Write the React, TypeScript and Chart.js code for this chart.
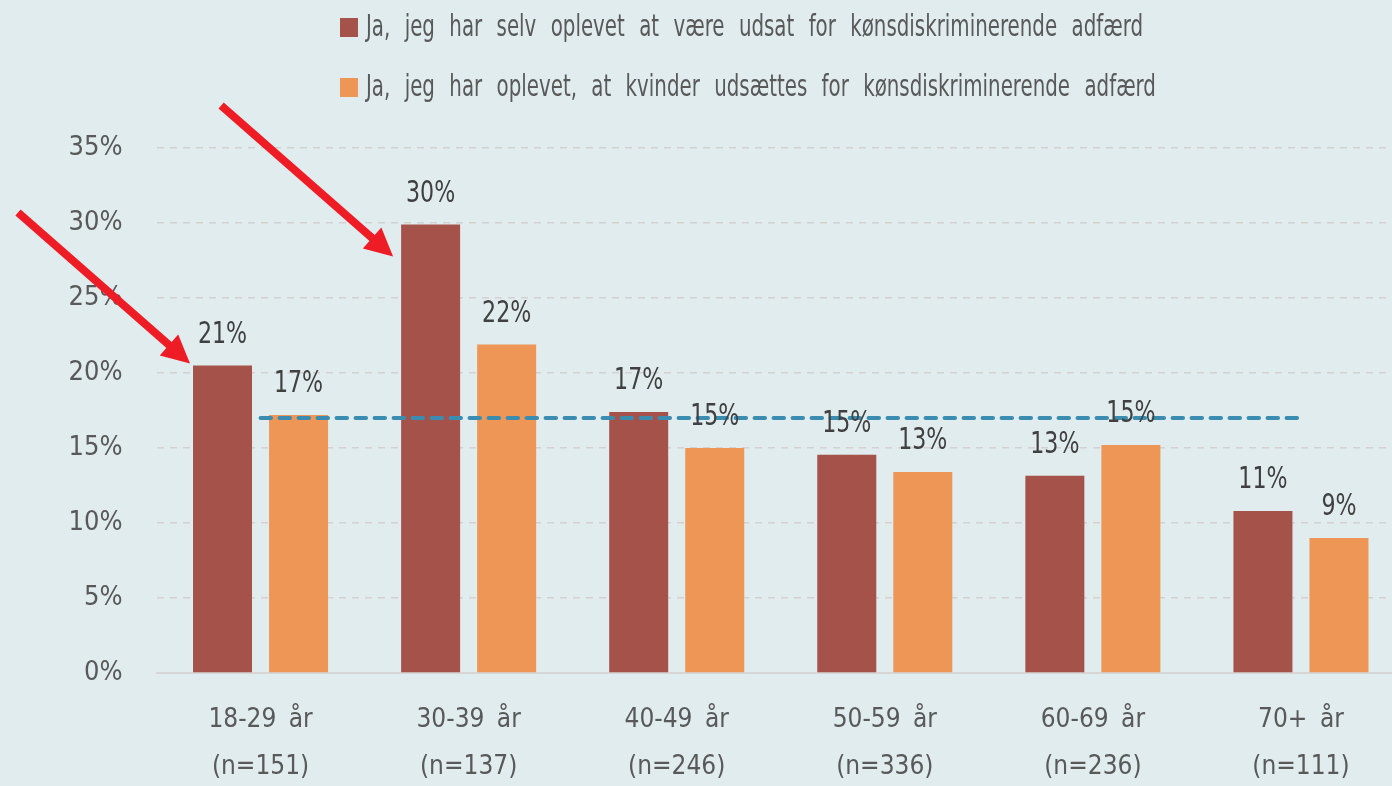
import React, { useEffect, useRef } from "react";
import { Chart, registerables } from "chart.js";

Chart.register(...registerables);

// ---------- data ----------
const categories: string[][] = [
  ["18-29 år", "(n=151)"],
  ["30-39 år", "(n=137)"],
  ["40-49 år", "(n=246)"],
  ["50-59 år", "(n=336)"],
  ["60-69 år", "(n=236)"],
  ["70+ år", "(n=111)"],
];
const seriesLabels = [
  "Ja, jeg har selv oplevet at være udsat for kønsdiskriminerende adfærd",
  "Ja, jeg har oplevet, at kvinder udsættes for kønsdiskriminerende adfærd",
];
const selfExperienced = [20.5, 29.9, 17.4, 14.55, 13.15, 10.8];
const womenExperienced = [17.2, 21.9, 15.0, 13.4, 15.2, 9.0];
const averageLine = [17, 17, 17, 17, 17, 17];
const yMin = 0;
const yMax = 35;
const yStep = 5;

// ---------- styles ----------
const FONT = '"Liberation Sans Narrow", "DejaVu Sans Condensed", "Noto Sans", sans-serif';
const BG = "#e1ecee";
const DARK = "#a5524a";
const ORANGE = "#ee9655";
const AVG = "#3a8db1";
const TEXT = "#595959";
const LABEL = "#404040";
const ARROW = "#ee1c25";

const wordSpacingPlugin = {
  id: "wordSpacing",
  beforeDraw(chart: any) {
    (chart.ctx as any).wordSpacing = "5px";
  },
};

const valueLabels = {
  id: "valueLabels",
  afterDatasetsDraw(chart: any) {
    const ctx = chart.ctx;
    chart.data.datasets.forEach((ds: any, i: number) => {
      if (ds.type === "line") return;
      const meta = chart.getDatasetMeta(i);
      meta.data.forEach((el: any, j: number) => {
        ctx.save();
        ctx.font = `30px ${FONT}`;
        ctx.fillStyle = LABEL;
        ctx.textAlign = "center";
        ctx.textBaseline = "alphabetic";
        ctx.translate(el.x, el.y - 23);
        ctx.scale(0.82, 1);
        ctx.fillText(Math.round(ds.data[j]) + "%", 0, 0);
        ctx.restore();
      });
    });
  },
};

const arrowsPlugin = {
  id: "arrows",
  afterDraw(chart: any) {
    const ctx = chart.ctx;
    const meta = chart.getDatasetMeta(0);
    const marks = [
      { index: 0, dx: -3, dy: -2 },
      { index: 1, dx: -8, dy: 32 },
    ];
    const vx = -172;
    const vy = -151;
    const len = Math.hypot(vx, vy);
    const ux = vx / len;
    const uy = vy / len;
    const headLen = 28;
    const headHalf = 14;
    ctx.save();
    ctx.strokeStyle = ARROW;
    ctx.fillStyle = ARROW;
    ctx.lineWidth = 8;
    marks.forEach((m) => {
      const el = meta.data[m.index];
      const tipX = el.x - el.width / 2 + m.dx;
      const tipY = el.y + m.dy;
      const tailX = tipX + vx;
      const tailY = tipY + vy;
      const baseX = tipX + ux * headLen;
      const baseY = tipY + uy * headLen;
      ctx.beginPath();
      ctx.moveTo(tailX, tailY);
      ctx.lineTo(baseX - ux * 2, baseY - uy * 2);
      ctx.stroke();
      ctx.beginPath();
      ctx.moveTo(tipX, tipY);
      ctx.lineTo(baseX - uy * headHalf, baseY + ux * headHalf);
      ctx.lineTo(baseX + uy * headHalf, baseY - ux * headHalf);
      ctx.closePath();
      ctx.fill();
    });
    ctx.restore();
  },
};

const legendPlugin = {
  id: "customLegend",
  afterDraw(chart: any) {
    const ctx = chart.ctx;
    ctx.save();
    ctx.font = `30px ${FONT}`;
    (ctx as any).wordSpacing = "11px";
    ctx.textAlign = "left";
    ctx.textBaseline = "middle";
    const rows = [27, 87];
    const sx = 777 / ctx.measureText(seriesLabels[0]).width;
    chart.data.datasets.forEach((ds: any, i: number) => {
      if (ds.type === "line") return;
      const y = rows[i];
      ctx.fillStyle = ds.backgroundColor;
      ctx.fillRect(340, y - 9, 18, 19);
      ctx.save();
      ctx.fillStyle = TEXT;
      ctx.translate(366, y + 1);
      ctx.scale(sx, 1);
      ctx.fillText(ds.label, 0, 0);
      ctx.restore();
    });
    ctx.restore();
  },
};

export default function App() {
  const ref = useRef<HTMLCanvasElement | null>(null);

  useEffect(() => {
    if (!ref.current) return;
    const chart = new Chart(ref.current, {
      data: {
        labels: categories,
        datasets: [
          {
            type: "bar",
            label: seriesLabels[0],
            data: selfExperienced,
            backgroundColor: DARK,
            categoryPercentage: 0.7308,
            barPercentage: 0.776,
            order: 1,
          },
          {
            type: "bar",
            label: seriesLabels[1],
            data: womenExperienced,
            backgroundColor: ORANGE,
            categoryPercentage: 0.7308,
            barPercentage: 0.776,
            order: 1,
          },
          {
            type: "line",
            label: "Gennemsnit",
            data: averageLine,
            borderColor: AVG,
            borderWidth: 4,
            borderDash: [10.5, 8.5],
            borderCapStyle: "round",
            pointRadius: 0,
            fill: false,
            order: 0,
          },
        ] as any,
      },
      options: {
        responsive: false,
        animation: false,
        layout: { padding: { top: 148, left: 0, right: 0, bottom: 0 } },
        plugins: {
          legend: { display: false },
          tooltip: { enabled: false },
        },
        scales: {
          x: {
            grid: { display: false, drawTicks: false },
            border: { display: true, color: "#d6d6d6", width: 2 },
            ticks: {
              color: TEXT,
              font: { family: FONT, size: 26, lineHeight: 47 / 26 },
              padding: 23.5,
              maxRotation: 0,
              autoSkip: false,
            },
            afterFit: (scale: any) => {
              scale.height = 127;
            },
          },
          y: {
            min: yMin,
            max: yMax,
            grid: { color: "#d6d0d0", lineWidth: 1.5, drawTicks: false },
            border: { display: false, dash: [7, 6] },
            ticks: {
              stepSize: yStep,
              color: TEXT,
              font: { family: FONT, size: 27 },
              padding: 34,
              callback: (v: any) => v + "%",
            },
            afterFit: (scale: any) => {
              scale.width = 156.5;
            },
          },
        },
      },
      plugins: [wordSpacingPlugin, valueLabels, legendPlugin, arrowsPlugin],
    } as any);
    return () => chart.destroy();
  }, []);

  return (
    <div
      style={{
        position: "absolute",
        left: 0,
        top: 0,
        width: 1392,
        height: 786,
        overflow: "hidden",
        background: BG,
      }}
    >
      <canvas ref={ref} width={1405} height={800} style={{ display: "block" }} />
    </div>
  );
}
